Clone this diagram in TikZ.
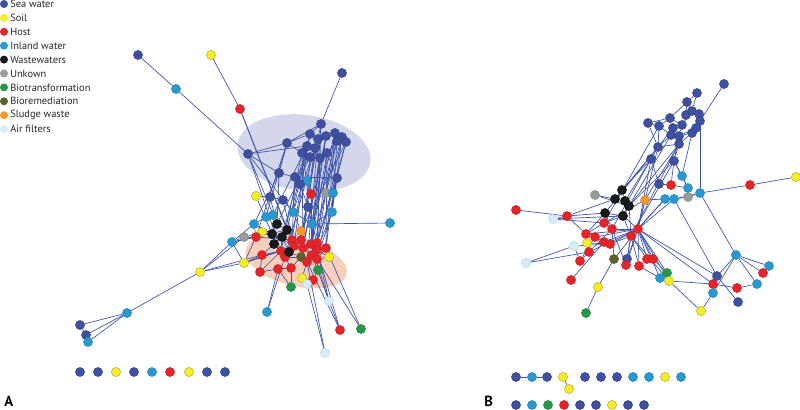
\documentclass[tikz,border=0pt]{standalone}
\usepackage{fontspec}
\setmainfont{PT Sans}
\usetikzlibrary{backgrounds}
\definecolor{cSea}{RGB}{62,80,160}
\definecolor{cSoil}{RGB}{246,236,40}
\definecolor{cHost}{RGB}{228,36,40}
\definecolor{cInland}{RGB}{40,152,206}
\definecolor{cWaste}{RGB}{26,26,26}
\definecolor{cUnk}{RGB}{155,155,155}
\definecolor{cBiot}{RGB}{40,150,72}
\definecolor{cBiorem}{RGB}{95,95,50}
\definecolor{cSludge}{RGB}{244,152,40}
\definecolor{cAir}{RGB}{214,236,246}
\definecolor{cEdge}{RGB}{58,82,168}
\definecolor{cBlueEll}{RGB}{212,214,236}
\definecolor{cPeach}{RGB}{248,206,188}
\pgfdeclarelayer{ells}
\pgfdeclarelayer{edges}
\pgfsetlayers{ells,edges,main}
\tikzset{
  nd/.style={circle,minimum size=6.9pt,inner sep=0pt,line width=0.3pt},
  sea/.style={nd,fill=cSea,draw=cSea!80!black},
  soil/.style={nd,fill=cSoil,draw=cSoil!70!black},
  host/.style={nd,fill=cHost,draw=cHost!85!black},
  inl/.style={nd,fill=cInland,draw=cInland!85!black},
  waste/.style={nd,fill=cWaste,draw=black},
  unk/.style={nd,fill=cUnk,draw=cUnk!85!black},
  biot/.style={nd,fill=cBiot,draw=cBiot!85!black},
  biorem/.style={nd,fill=cBiorem,draw=cBiorem!85!black},
  sludge/.style={nd,fill=cSludge,draw=cSludge!85!black},
  air/.style={nd,fill=cAir,draw=cInland!40},
  ed/.style={draw=cEdge,line width=0.5pt},
  lgtxt/.style={anchor=west,inner sep=0pt,font=\fontsize{7.8}{9}\selectfont,text=black!85},
  panel/.style={anchor=base west,inner sep=0pt,font=\fontsize{11}{12}\selectfont\bfseries}
}
\begin{document}
\begin{tikzpicture}[x=0.75pt,y=-0.75pt]
\path[use as bounding box] (0,0) rectangle (800,410);
% legend
\foreach \s/\t [count=\i from 0] in {sea/Sea water,soil/Soil,host/Host,inl/Inland water,waste/Wastewaters,unk/Unkown,biot/Biotransformation,biorem/Bioremediation,sludge/Sludge waste,air/Air filters}{
  \node[\s,minimum size=6pt,draw=none] (lg\i) at (4,4+13.9*\i) {};
  \node[lgtxt] (lt\i) at (10,4+13.9*\i) {\t};
}
\node[panel] (pA) at (4,406) {A};
\node[panel] (pB) at (484,406) {B};
% ===== Panel A nodes =====
\node[sea] (A1) at (138,55) {};
\node[soil] (A2) at (211,55) {};
\node[inl] (A3) at (176,89) {};
\node[host] (A4) at (240,109) {};
\node[sea] (A5) at (342,73) {};
\node[sea] (S1) at (321,124) {};
\node[sea] (S2) at (310,134) {};
\node[sea] (S3) at (335,133) {};
\node[sea] (S4) at (342,137) {};
\node[sea] (S5) at (346,142) {};
\node[sea] (S6) at (318,139) {};
\node[sea] (S7) at (326,136) {};
\node[sea] (S8) at (287,143) {};
\node[sea] (S9) at (248,154) {};
\node[sea] (S10) at (307,146) {};
\node[sea] (S11) at (302,153) {};
\node[sea] (S12) at (315,148) {};
\node[sea] (S13) at (337,141) {};
\node[sea] (S14) at (310,157) {};
\node[sea] (S15) at (320,158) {};
\node[sea] (S16) at (327,153) {};
\node[sea] (S17) at (279,173) {};
\node[sea] (S18) at (295,177) {};
\node[sea] (S19) at (337,178) {};
\node[inl] (I1) at (307,181) {};
\node[sea] (S20) at (300,184) {};
\node[soil] (Y1) at (256,196) {};
\node[sea] (S21) at (270,197) {};
\node[sea] (S22) at (283,200) {};
\node[host] (R1) at (311,194) {};
\node[unk] (G1) at (326,193) {};
\node[inl] (I2) at (333,193) {};
\node[sea] (S23) at (308,207) {};
\node[inl] (I3) at (293,212) {};
\node[inl] (I4) at (332,212) {};
\node[inl] (I5) at (266,217) {};
\node[inl] (I6) at (273,215) {};
\node[inl] (I7) at (312,224) {};
\node[inl] (I8) at (390,223) {};
\node[inl] (I9) at (254,224) {};
\node[soil] (Y2) at (262,232) {};
\node[sludge] (O1) at (301,231) {};
\node[unk] (G2) at (244,237) {};
\node[host] (R2) at (256,237) {};
\node[inl] (I10) at (232,242) {};
\node[host] (R3) at (292,240) {};
\node[host] (R4) at (301,240) {};
\node[host] (R5) at (294,246) {};
\node[host] (R6) at (311,244) {};
\node[host] (R7) at (317,243) {};
\node[host] (R8) at (303,248) {};
\node[host] (R9) at (317,250) {};
\node[host] (R10) at (326,248) {};
\node[host] (R11) at (312,255) {};
\node[host] (R12) at (262,255) {};
\node[host] (R13) at (281,251) {};
\node[host] (R14) at (285,257) {};
\node[biorem] (OL1) at (301,257) {};
\node[host] (R15) at (307,262) {};
\node[host] (R16) at (317,259) {};
\node[soil] (Y3) at (329,257) {};
\node[soil] (Y4) at (244,263) {};
\node[host] (R17) at (260,272) {};
\node[host] (R18) at (278,269) {};
\node[host] (R19) at (291,268) {};
\node[biot] (GR1) at (318,270) {};
\node[soil] (Y5) at (302,278) {};
\node[host] (R20) at (313,280) {};
\node[air] (AF1) at (307,284) {};
\node[biot] (GR2) at (291,287) {};
\node[soil] (Y6) at (200,272) {};
\node[inl] (I11) at (267,312) {};
\node[air] (AF2) at (329,301) {};
\node[host] (R21) at (340,330) {};
\node[biot] (GR3) at (361,329) {};
\node[air] (AF3) at (325,353) {};
\node[inl] (I12) at (127,313) {};
\node[sea] (S24) at (80,325) {};
\node[sea] (S25) at (86,335) {};
\node[inl] (I13) at (88,342) {};
\node[waste] (B1) at (277,224) {};
\node[waste] (B2) at (287,230) {};
\node[waste] (B3) at (272,234) {};
\node[waste] (B4) at (282,237) {};
\node[waste] (B5) at (274,244) {};
\node[waste] (B6) at (289,252) {};
\foreach \s/\x [count=\i] in {sea/80,sea/98,soil/116,sea/134,inl/152,host/170,soil/189,sea/207,sea/225}
  \node[\s] (BA\i) at (\x,372) {};
% ===== Panel B nodes =====
\node[sea] (T1) at (724,84) {};
\node[sea] (T2) at (697,93) {};
\node[sea] (T3) at (687,102) {};
\node[sea] (T4) at (686,115) {};
\node[sea] (T5) at (692,111) {};
\node[sea] (T6) at (699,114) {};
\node[sea] (T7) at (700,121) {};
\node[sea] (T8) at (696,128) {};
\node[sea] (T9) at (692,133) {};
\node[sea] (T10) at (682,125) {};
\node[sea] (T11) at (670,118) {};
\node[sea] (T12) at (659,126) {};
\node[sea] (T13) at (648,123) {};
\node[sea] (T14) at (673,128) {};
\node[sea] (T15) at (671,135) {};
\node[sea] (T16) at (679,136) {};
\node[sea] (T17) at (658,147) {};
\node[sea] (T18) at (679,144) {};
\node[sea] (T19) at (651,159) {};
\node[sea] (T20) at (674,161) {};
\node[inl] (J1) at (682,176) {};
\node[sea] (T21) at (659,184) {};
\node[host] (Q1) at (671,185) {};
\node[inl] (J2) at (688,188) {};
\node[inl] (J3) at (700,193) {};
\node[unk] (U1) at (688,197) {};
\node[inl] (J4) at (674,199) {};
\node[inl] (J5) at (665,199) {};
\node[sludge] (O2) at (645,200) {};
\node[host] (Q2) at (750,185) {};
\node[soil] (Y7) at (796,177) {};
\node[unk] (U2) at (595,195) {};
\node[waste] (K1) at (622,190) {};
\node[waste] (K2) at (615,199) {};
\node[waste] (K3) at (625,201) {};
\node[waste] (K4) at (629,206) {};
\node[waste] (K5) at (605,213) {};
\node[waste] (K6) at (623,216) {};
\node[host] (Q3) at (516,210) {};
\node[host] (Q4) at (567,216) {};
\node[air] (AF4) at (553,219) {};
\node[host] (Q5) at (604,223) {};
\node[host] (Q6) at (612,229) {};
\node[host] (Q7) at (638,229) {};
\node[host] (Q8) at (586,234) {};
\node[host] (Q9) at (595,237) {};
\node[host] (Q10) at (631,236) {};
\node[air] (AF5) at (574,246) {};
\node[soil] (Y8) at (587,243) {};
\node[host] (Q11) at (604,242) {};
\node[host] (Q12) at (610,244) {};
\node[host] (Q13) at (589,252) {};
\node[host] (Q14) at (580,261) {};
\node[air] (AF6) at (526,263) {};
\node[biorem] (OL2) at (614,259) {};
\node[sea] (T22) at (627,259) {};
\node[host] (Q15) at (626,265) {};
\node[host] (Q16) at (639,266) {};
\node[host] (Q17) at (647,259) {};
\node[host] (Q18) at (653,259) {};
\node[biot] (GR4) at (667,273) {};
\node[inl] (J6) at (660,278) {};
\node[soil] (Y9) at (669,281) {};
\node[host] (Q19) at (571,280) {};
\node[soil] (Y10) at (598,287) {};
\node[biot] (GR5) at (586,313) {};
\node[inl] (J7) at (736,255) {};
\node[inl] (J8) at (769,266) {};
\node[host] (Q20) at (763,273) {};
\node[sea] (T23) at (717,276) {};
\node[host] (Q21) at (713,284) {};
\node[host] (Q22) at (737,288) {};
\node[inl] (J9) at (757,284) {};
\node[inl] (J10) at (713,293) {};
\node[sea] (T24) at (738,302) {};
\node[soil] (Y11) at (701,311) {};
\foreach \s/\x [count=\i] in {sea/516,inl/532,sea/547,soil/563,sea/585,sea/601,sea/617,inl/633,inl/649,soil/665,inl/681}
  \node[\s] (BB\i) at (\x,377) {};
\node[soil] (BBy) at (569,389) {};
\foreach \s/\x [count=\i] in {sea/516,inl/532,biot/548,host/564,sea/580,sea/596,soil/612,sea/628,sea/644}
  \node[\s] (BC\i) at (\x,405) {};
% ===== background ellipses =====
\begin{pgfonlayer}{ells}
\fill[cBlueEll] (304,153) ellipse[x radius=67,y radius=38,rotate=-8];
\fill[cPeach] (296,262) ellipse[x radius=52,y radius=24,rotate=-14];
\fill[black!12] (281,236) ellipse[x radius=14,y radius=17];
\end{pgfonlayer}
% ===== edges =====
\begin{pgfonlayer}{edges}
\foreach \a/\b in {A1/A3,A3/S9,A2/A4,A4/R5,A4/B2,A5/S1,
 S1/S2,S1/S6,S1/S8,S2/S10,S2/S8,S3/S4,S4/S5,S3/S7,S6/S7,S5/S13,S13/S16,S7/S12,S10/S11,S11/S14,S12/S15,S14/S15,S15/S16,S8/S9,S8/S17,S9/S10,S9/S17,S10/S12,S6/S12,S11/S12,S16/S19,S14/S18,S17/S18,S18/S19,S8/S11,S3/S13,S4/S16,
 S2/I3,S2/R3,S3/I7,S3/R9,S4/R6,S4/I4,S5/O1,S5/R7,S6/R4,S7/I7,S7/R6,S10/B2,S10/R5,S11/R8,S11/I1,S12/R4,S12/S23,S13/I4,S13/R11,S14/R8,S14/B1,S15/R7,S15/I7,S16/R10,S16/R6,S19/I4,S19/I2,S17/B1,S17/I9,S18/I3,S18/R3,S9/B1,S9/I3,S9/R13,S8/I5,S8/R2,S1/R11,S1/R16,S6/I3,S7/R8,S3/R10,S4/R16,S5/I2,S13/I7,S16/R9,S2/B4,S6/R15,S12/R14,S15/OL1,S11/R13,S10/I6,
 I1/S20,I1/R1,S20/S23,Y1/S21,Y1/B3,S21/S22,S21/B1,S22/I3,S22/R5,R1/G1,G1/I2,R1/I7,I2/I4,I3/I7,I4/I7,I5/I6,I5/I9,I6/B1,I9/I10,I9/B3,I8/I7,S23/I7,S23/R4,I3/O1,R1/R6,I2/R10,I4/R9,I4/R16,S19/R7,
 B1/B2,B1/B3,B2/B4,B3/B4,B3/B5,B4/B6,B2/R3,B4/R13,B5/R12,B5/R13,B6/R14,B6/OL1,Y2/G2,Y2/R2,Y2/B3,R2/G2,R2/I9,G2/I10,R3/R4,R3/R5,R4/R8,R5/R8,R6/R7,R6/R8,R7/R9,R9/R10,R9/R11,R8/R11,R10/R16,R11/OL1,R11/R15,R12/R13,R13/R14,R14/OL1,OL1/R15,R15/R16,R16/Y3,R9/Y3,R12/Y4,R12/R17,R17/R18,R18/R19,R19/OL1,R19/GR2,R18/GR2,R14/R19,R15/Y5,Y5/R20,R20/GR1,GR1/R16,AF1/R20,AF1/Y5,O1/R4,O1/R3,I7/R7,I7/R6,I7/R11,I9/R5,I10/B2,Y4/R5,R2/R3,R12/R8,R17/R13,
 I10/Y4,I10/Y6,Y6/Y4,Y6/R12,Y6/G2,Y6/I12,I12/S24,I12/S25,I12/I13,S24/S25,S25/I13,Y4/R2,Y4/R13,I10/R2,
 I11/R14,I11/R18,AF2/R11,AF2/R6,AF2/R9,R21/R15,R21/R9,R21/AF2,GR3/R16,GR3/R10,AF3/AF1,AF3/R15}
  \draw[ed] (\a)--(\b);
\foreach \a/\b in {T1/T7,T2/T3,T3/T5,T3/T4,T4/T5,T5/T6,T6/T7,T7/T8,T8/T9,T4/T10,T10/T11,T11/T12,T12/T13,T13/T17,T12/T17,T14/T15,T15/T16,T16/T18,T9/T18,T8/T16,T10/T14,T11/T14,T17/T19,T18/T20,T17/T18,T13/T11,T2/T5,T6/T8,T10/T16,T12/T15,T9/T16,T14/T17,T15/T17,T3/T11,T5/T10,
 T7/J3,T20/J1,T20/J2,T19/K1,T19/K3,T17/K2,T18/O2,T18/K4,T19/Q7,T15/K6,T12/Q5,T20/Q10,T17/K5,T19/Q6,T20/K4,T18/Q10,T16/T20,T9/J1,T17/Q7,T19/T21,T20/Q1,
 T21/Q1,Q1/J2,J1/J2,J2/U1,J3/U1,J3/J4,J4/J5,J5/O2,Q2/J3,Q2/Y7,J3/J7,J4/T23,J5/Q7,J4/Q7,O2/Q7,O2/Q5,J5/Q10,U1/J4,
 U2/K2,U2/K4,K1/K2,K2/K3,K3/K4,K4/K6,K5/K6,K1/K3,Q3/Q4,Q4/K2,Q4/K5,AF4/K6,AF4/Q5,Q4/Q8,AF4/Q4,
 AF6/Q13,AF6/AF5,Q19/Q11,GR5/Y10,Y10/OL2,Q14/AF5,
 Q5/Q6,Q6/Q7,Q8/Q9,Q9/Q11,Q11/Q12,Q7/Q10,Q10/Q12,Q8/Y8,Y8/Q13,Q13/Q14,Q14/Q9,Q7/Q15,Q7/Q16,Q7/Q17,Q7/Q18,Q7/GR4,Q7/J6,Q7/Y9,Q10/Y9,Q7/T22,Q7/OL2,Q6/OL2,Q6/Q15,Q7/Q21,Q7/T23,Q16/J6,Q18/GR4,Q7/Q12,Q7/Q11,Q7/Q9,Q7/Q8,Q7/Q13,Q10/Q16,Q10/Q17,K6/Q7,K6/Q10,K5/Q8,K5/Q6,Q5/Q8,Q5/K6,Y8/Q12,AF5/Q12,Q6/Q13,K4/Q10,Q10/Q15,Q10/T22,
 J7/J8,J7/Q20,J7/J9,J7/T23,J7/J10,T23/T24,Q21/Q22,Q22/J9,J10/Y11,Y9/Y11,Y9/Q21,
 BB1/BB2,BB2/BB3,BB4/BBy}
  \draw[ed] (\a)--(\b);
\end{pgfonlayer}
\end{tikzpicture}
\end{document}
